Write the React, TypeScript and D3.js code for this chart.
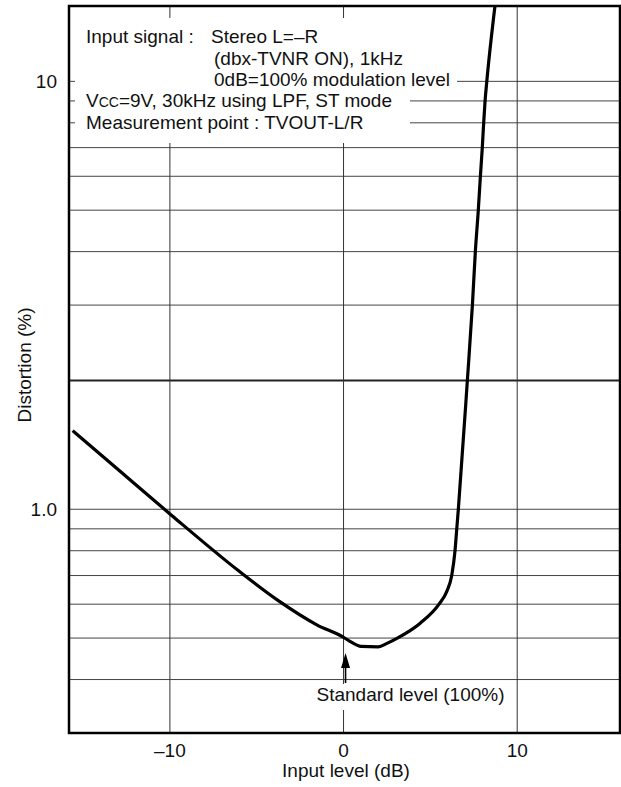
import React, { useRef, useEffect } from 'react';
import * as d3 from 'd3';

// Curve (input level dB, distortion %)
const inputLevel = [
  -15.6, -12.8, -9.93, -6.1, -3.82, -1.54, 0, 0.45, 1.0, 2.0, 2.5, 3.1,
  4.4, 5.5, 5.94, 6.23, 6.42, 6.52, 6.61, 7.13, 7.42, 7.59, 7.76, 7.88, 7.99,
  8.07, 8.15, 8.25, 8.72,
];
const distortion = [
  1.527, 1.22, 0.97, 0.721, 0.614, 0.537, 0.502, 0.489, 0.478, 0.477, 0.486, 0.5,
  0.541, 0.6, 0.642, 0.7, 0.8, 0.9, 1.0, 2, 3, 4, 5, 6, 7, 8, 9, 10, 15,
];

const xTicks = [-10, 0, 10];
const xTickLabels = ['\u201310', '0', '10'];
const yTicks = [10, 1];
const yTickLabels = ['10', '1.0'];
const yGrid = [0.4, 0.5, 0.6, 0.7, 0.8, 0.9, 1, 2, 3, 4, 5, 6, 7, 8, 9, 10];

const noteLines = [
  'Input signal :',
  '(dbx-TVNR ON), 1kHz',
  '0dB=100% modulation level',
];

const width = 621;
const height = 787;
const FONT = '"Liberation Sans", Arial, Helvetica, sans-serif';

const App: React.FC = () => {
  const svgRef = useRef<SVGSVGElement>(null);

  useEffect(() => {
    if (!svgRef.current) return;
    const svg = d3.select(svgRef.current);
    svg.selectAll('*').remove();

    const left = 69, right = 620, top = 6, bottom = 733;

    const x = d3.scaleLinear().domain([-15.81, 15.92]).range([left, right]);
    const y = d3.scaleLog().domain([0.3, 15]).range([bottom, top]);

    svg.attr('width', width).attr('height', height).style('font-family', FONT);

    svg.append('rect').attr('width', width).attr('height', height).attr('fill', '#fff');

    // horizontal grid
    svg.append('g')
      .selectAll('line')
      .data(yGrid)
      .join('line')
      .attr('x1', left)
      .attr('x2', right)
      .attr('y1', d => y(d))
      .attr('y2', d => y(d))
      .attr('stroke', d => (d === 2 ? '#222' : '#444'))
      .attr('stroke-width', d => (d === 2 ? 2 : 1));

    // vertical grid
    svg.append('g')
      .selectAll('line')
      .data(xTicks)
      .join('line')
      .attr('x1', d => x(d))
      .attr('x2', d => x(d))
      .attr('y1', top)
      .attr('y2', bottom)
      .attr('stroke', '#333')
      .attr('stroke-width', 1);

    // white backgrounds behind the notes
    svg.append('rect').attr('x', 75).attr('y', 18).attr('width', 335).attr('height', 125).attr('fill', '#fff');
    svg.append('rect').attr('x', 400).attr('y', 70).attr('width', 57).attr('height', 22).attr('fill', '#fff');
    svg.append('rect').attr('x', 314).attr('y', 684).attr('width', 193).attr('height', 26).attr('fill', '#fff');

    // curve
    const pts = inputLevel.map((v, i) => [v, distortion[i]] as [number, number]);
    const line = d3.line<[number, number]>()
      .x(d => x(d[0]))
      .y(d => y(d[1]))
      .curve(d3.curveMonotoneX);

    svg.append('defs').append('clipPath').attr('id', 'plot-clip')
      .append('rect').attr('x', left).attr('y', top).attr('width', right - left).attr('height', bottom - top);

    svg.append('path')
      .datum(pts)
      .attr('d', line)
      .attr('fill', 'none')
      .attr('stroke', '#000')
      .attr('stroke-width', 3.2)
      .attr('stroke-linejoin', 'round')
      .attr('clip-path', 'url(#plot-clip)');

    // frame
    svg.append('rect')
      .attr('x', left)
      .attr('y', top)
      .attr('width', right - left)
      .attr('height', bottom - top)
      .attr('fill', 'none')
      .attr('stroke', '#000')
      .attr('stroke-width', 2.5);

    // notes
    const notes = svg.append('g').attr('font-size', 19).attr('fill', '#111');
    notes.append('text').attr('x', 86).attr('y', 43).text(noteLines[0]);
    notes.append('text').attr('x', 211).attr('y', 43).text('Stereo L=\u2013R');
    notes.append('text').attr('x', 214).attr('y', 64.5).text(noteLines[1]);
    notes.append('text').attr('x', 214).attr('y', 86).text(noteLines[2]);
    const vcc = notes.append('text').attr('x', 86).attr('y', 107);
    vcc.append('tspan').text('V');
    vcc.append('tspan').attr('font-size', 14).text('CC');
    vcc.append('tspan').text('=9V, 30kHz using LPF, ST mode');
    notes.append('text').attr('x', 86).attr('y', 128.5).text('Measurement point : TVOUT-L/R');

    // standard level arrow
    const ax = x(0) + 2;
    svg.append('line')
      .attr('x1', ax).attr('x2', ax)
      .attr('y1', 666).attr('y2', 683)
      .attr('stroke', '#000').attr('stroke-width', 1.6);
    svg.append('path')
      .attr('d', `M${ax},653 L${ax - 4.5},668 L${ax + 4.5},668 Z`)
      .attr('fill', '#000');
    svg.append('text')
      .attr('x', 316.5)
      .attr('y', 701)
      .attr('font-size', 19)
      .attr('fill', '#111')
      .text('Standard level (100%)');

    // x tick labels
    svg.append('g')
      .selectAll('text')
      .data(xTicks)
      .join('text')
      .attr('x', d => x(d))
      .attr('y', 757)
      .attr('text-anchor', 'middle')
      .attr('font-size', 19)
      .attr('fill', '#111')
      .text((_, i) => xTickLabels[i]);

    // y tick labels
    svg.append('g')
      .selectAll('text')
      .data(yTicks)
      .join('text')
      .attr('x', 57)
      .attr('y', d => y(d) + 7)
      .attr('text-anchor', 'end')
      .attr('font-size', 19)
      .attr('fill', '#111')
      .text((_, i) => yTickLabels[i]);

    // axis titles
    svg.append('text')
      .attr('x', 346)
      .attr('y', 777)
      .attr('text-anchor', 'middle')
      .attr('font-size', 19)
      .attr('fill', '#111')
      .text('Input level (dB)');

    svg.append('text')
      .attr('transform', 'translate(31,365) rotate(-90)')
      .attr('text-anchor', 'middle')
      .attr('font-size', 19)
      .attr('fill', '#111')
      .text('Distortion (%)');
  }, []);

  return (
    <svg ref={svgRef} style={{ position: 'absolute', left: 0, top: 0, display: 'block' }} />
  );
};

export default App;
